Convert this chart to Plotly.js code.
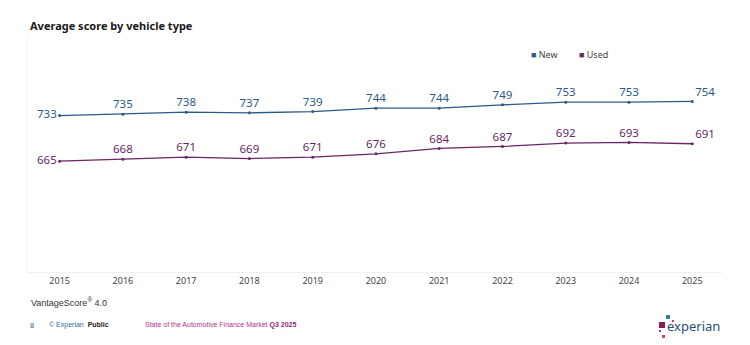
<!DOCTYPE html>
<html>
<head>
<meta charset="utf-8">
<script src="https://cdn.plot.ly/plotly-3.0.1.min.js"></script>
<style>html,body{margin:0;padding:0;background:#fff;}#chart{width:750px;height:345px;}</style>
</head>
<body>
<div id="chart"></div>
<script>
const years = [2015, 2016, 2017, 2018, 2019, 2020, 2021, 2022, 2023, 2024, 2025];
const newScores = [733, 735, 738, 737, 739, 744, 744, 749, 753, 753, 754];
const usedScores = [665, 668, 671, 669, 671, 676, 684, 687, 692, 693, 691];
const seriesNames = ['New', 'Used'];

const NEW_C = '#2c5a86';
const USED_C = '#6a2766';
const FONT = '"Noto Sans", "Open Sans", sans-serif';
const SANS = '"Liberation Sans", Arial, sans-serif';

function positions(n) {
  return Array.from({length: n}, (_, i) => i === 0 ? 'middle left' : (i === n - 1 ? 'top right' : 'top center'));
}

function lineTrace(y, name, color) {
  return {
    x: years, y: y, name: name, type: 'scatter', mode: 'lines+markers+text',
    line: {color: color, width: 1.3},
    marker: {color: color, size: 3},
    text: y.map(String), textposition: positions(y.length),
    textfont: {family: FONT, size: 11.5, color: color},
    showlegend: false, cliponaxis: false, hoverinfo: 'x+y'
  };
}

const data = [
  lineTrace(newScores, seriesNames[0], NEW_C),
  lineTrace(usedScores, seriesNames[1], USED_C)
];

const px = x => (x - 28) / 694;
const py = y => (272 - y) / 235;

const layout = {
  width: 750, height: 345,
  margin: {l: 28, r: 28, t: 37, b: 73},
  paper_bgcolor: '#ffffff', plot_bgcolor: '#ffffff',
  font: {family: FONT, size: 9, color: '#333'},
  showlegend: false,
  title: {text: '<b>Average score by vehicle type</b>', x: 30/750, xanchor: 'left', xref: 'container',
          y: 1 - 26/345, yanchor: 'middle', yref: 'container',
          font: {family: FONT, size: 11, color: '#1a1a1a'}},
  xaxis: {range: [2014.5, 2025.47], tickvals: years, ticktext: years.map(String),
          showgrid: false, zeroline: false, showline: true, linecolor: '#f0f0f0', linewidth: 1,
          ticks: '', tickfont: {family: FONT, size: 9, color: '#444'}, fixedrange: true},
  yaxis: {range: [500, 850], showgrid: false, zeroline: false, showticklabels: false,
          showline: true, linecolor: '#f3f3f3', linewidth: 1, ticks: '', fixedrange: true},
  annotations: [
    {xref: 'paper', yref: 'paper', x: px(529), y: py(54), xanchor: 'left', yanchor: 'middle',
     text: '<span style="color:' + NEW_C + '">■</span> ' + seriesNames[0], showarrow: false,
     font: {family: FONT, size: 9, color: '#444'}},
    {xref: 'paper', yref: 'paper', x: px(577), y: py(54), xanchor: 'left', yanchor: 'middle',
     text: '<span style="color:' + USED_C + '">■</span> ' + seriesNames[1], showarrow: false,
     font: {family: FONT, size: 9, color: '#444'}},
    {xref: 'paper', yref: 'paper', x: px(29), y: py(302), xanchor: 'left', yanchor: 'middle',
     text: 'VantageScore<sup>®</sup> 4.0', showarrow: false, font: {family: SANS, size: 9, color: '#333'}},
    {xref: 'paper', yref: 'paper', x: px(28), y: py(325), xanchor: 'left', yanchor: 'middle',
     text: '8', showarrow: false, font: {family: SANS, size: 7.5, color: '#2c5a86'}},
    {xref: 'paper', yref: 'paper', x: px(47), y: py(325), xanchor: 'left', yanchor: 'middle',
     text: '<span style="color:#2c6aa0">© Experian</span>  <b style="color:#222">Public</b>', showarrow: false, font: {family: SANS, size: 7}},
    {xref: 'paper', yref: 'paper', x: px(143), y: py(325), xanchor: 'left', yanchor: 'middle',
     text: '<span style="color:#b0348a">State of the Automotive Finance Market </span><b style="color:#8a2a7a">Q3 2025</b>', showarrow: false, font: {family: SANS, size: 7}},
    {xref: 'paper', yref: 'paper', x: px(665), y: py(326), xanchor: 'left', yanchor: 'middle',
     text: 'experian', showarrow: false, font: {family: FONT, size: 13, color: '#2d4f7c'}}
  ],
  shapes: [
    {type: 'rect', xref: 'paper', yref: 'paper', x0: px(659), x1: px(665), y0: py(328), y1: py(322), fillcolor: '#8a1c5c', line: {width: 0}},
    {type: 'rect', xref: 'paper', yref: 'paper', x0: px(666), x1: px(670), y0: py(319), y1: py(315), fillcolor: '#3d7a94', line: {width: 0}},
    {type: 'rect', xref: 'paper', yref: 'paper', x0: px(672), x1: px(674), y0: py(322), y1: py(320), fillcolor: '#c23a8a', line: {width: 0}},
    {type: 'rect', xref: 'paper', yref: 'paper', x0: px(659), x1: px(661), y0: py(332), y1: py(330), fillcolor: '#b03080', line: {width: 0}},
    {type: 'rect', xref: 'paper', yref: 'paper', x0: px(662), x1: px(665), y0: py(338), y1: py(335), fillcolor: '#d23c8c', line: {width: 0}}
  ]
};

Plotly.newPlot('chart', data, layout, {displayModeBar: false, staticPlot: true});
</script>
</body>
</html>
